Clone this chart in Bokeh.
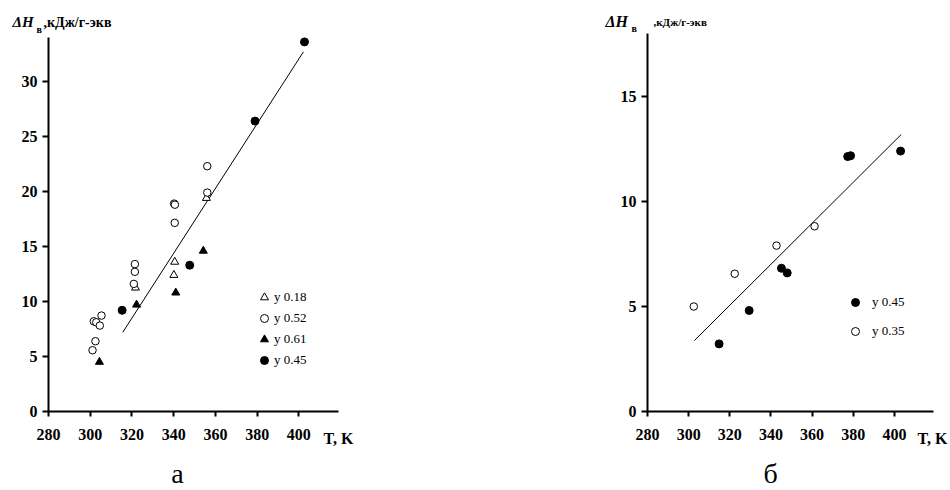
from bokeh.plotting import figure
from bokeh.models import Range1d, FixedTicker, Legend, LegendItem, Label
from bokeh.layouts import row
from bokeh.embed import file_html
from bokeh.resources import INLINE

# ---------------- data: chart "а" ----------------
a_T_018 = [355.7, 340.5, 340.1, 321.7]
a_H_018 = [19.4, 13.6, 12.4, 11.25]

a_T_052 = [356.1, 356.1, 340.2, 340.6, 340.5, 321.4, 321.4, 320.9,
           305.4, 301.7, 302.9, 304.6, 302.5, 301.1]
a_H_052 = [22.3, 19.9, 18.9, 18.8, 17.15, 13.4, 12.7, 11.6,
           8.72, 8.20, 8.11, 7.81, 6.39, 5.57]

a_T_061 = [354.2, 341.0, 322.2, 304.4]
a_H_061 = [14.6, 10.8, 9.7, 4.5]

a_T_045 = [315.3, 347.7, 379.0, 402.7]
a_H_045 = [9.2, 13.3, 26.4, 33.6]

a_fit_T = [315.6, 402.2]
a_fit_H = [7.2, 32.7]

# ---------------- data: chart "б" ----------------
b_T_045 = [314.8, 329.4, 345.1, 347.9, 377.3, 378.7, 403.0]
b_H_045 = [3.22, 4.81, 6.82, 6.60, 12.14, 12.18, 12.40]

b_T_035 = [302.5, 322.4, 342.7, 361.2]
b_H_035 = [5.0, 6.56, 7.90, 8.82]

b_fit_T = [302.8, 403.3]
b_fit_H = [3.38, 13.19]

x_ticks = [280, 300, 320, 340, 360, 380, 400]
a_y_ticks = [0, 5, 10, 15, 20, 25, 30]
b_y_ticks = [0, 5, 10, 15]

FONT = "Liberation Serif"

# layout (pixels); both frames share top and bottom (row aligns them)
TOP, FH, BOTTOM = 33, 378, 79
A_LEFT, A_FW, A_RIGHT = 48, 290, 135
B_LEFT, B_FW, B_RIGHT = 174, 286, 16
X0, X1 = 280, 419
A_KY, B_KY = 11.0, 21.0          # pixels per unit on each y axis
A_YMAX, B_YMAX = 34, 18          # where each y axis line ends


def style(p, yticks, ymax):
    p.xgrid.visible = False
    p.ygrid.visible = False
    p.outline_line_color = None
    p.background_fill_color = "white"
    p.border_fill_color = "white"
    p.xaxis.ticker = FixedTicker(ticks=x_ticks)
    p.yaxis.ticker = FixedTicker(ticks=yticks)
    p.yaxis.bounds = (0, ymax)
    for ax in (p.xaxis[0], p.yaxis[0]):
        ax.axis_line_width = 2
        ax.axis_line_color = "black"
        ax.major_tick_line_width = 2
        ax.major_tick_line_color = "black"
        ax.major_tick_in = 0
        ax.minor_tick_line_color = None
        ax.major_label_text_font = FONT
        ax.major_label_text_font_style = "bold"
        ax.major_label_text_font_size = "16px"
        ax.major_label_text_color = "black"
    p.xaxis.major_tick_out = 5
    p.xaxis.major_label_standoff = 12
    p.yaxis.major_tick_out = 6
    p.yaxis.major_label_standoff = 5


def make_label_adder(p, frame_left, frame_bottom, fw, ky):
    """Place texts by pixel position (baseline), converted through the figure's scales."""
    kx = fw / (X1 - X0)

    def add(side, text, px, py, size, fstyle="bold", align="left"):
        py = py - 0.4 * size          # renderer puts the baseline ~0.4em below the anchor
        x = X0 + (px - frame_left) / kx
        y = (frame_bottom - py) / ky
        p.add_layout(Label(x=x, y=y, x_units="data", y_units="data",
                           text=text, text_font=FONT, text_font_size=f"{size}px",
                           text_font_style=fstyle, text_color="black",
                           text_align=align, text_baseline="alphabetic"), side)
    return add


# ---------------- chart а ----------------
p1 = figure(frame_width=A_FW, frame_height=FH,
            x_range=Range1d(X0, X1), y_range=Range1d(0, FH / A_KY),
            min_border_left=A_LEFT, min_border_right=A_RIGHT,
            min_border_top=TOP, min_border_bottom=BOTTOM,
            output_backend="svg", toolbar_location=None)
style(p1, a_y_ticks, A_YMAX)

p1.line(a_fit_T, a_fit_H, line_color="black", line_width=1)
r018 = p1.scatter(a_T_018, a_H_018, marker="triangle", size=8,
                  fill_color="white", line_color="black", line_width=1)
r052 = p1.scatter(a_T_052, a_H_052, marker="circle", size=7.5,
                  fill_color="white", line_color="black", line_width=1)
r061 = p1.scatter(a_T_061, a_H_061, marker="triangle", size=8,
                  fill_color="black", line_color="black")
r045 = p1.scatter(a_T_045, a_H_045, marker="circle", size=8,
                  fill_color="black", line_color="black")

leg1 = Legend(items=[LegendItem(label="y 0.18", renderers=[r018]),
                     LegendItem(label="y 0.52", renderers=[r052]),
                     LegendItem(label="y 0.61", renderers=[r061]),
                     LegendItem(label="y 0.45", renderers=[r045])],
              location=(206, 41), margin=0, padding=0,
              glyph_width=20, glyph_height=20, label_height=14,
              label_width=10, spacing=1, label_standoff=0,
              border_line_alpha=0, background_fill_alpha=0,
              label_text_font=FONT, label_text_font_size="13px",
              label_text_color="black")
p1.add_layout(leg1, "center")

add1 = make_label_adder(p1, A_LEFT, TOP + FH, A_FW, A_KY)
add1("above", "ΔH", 12, 27, 15, "bold italic")
add1("left", "в", 36, 33, 10, "bold")
add1("right", ",кДж/г-экв", 43, 28, 14, "bold")
add1("right", "T, K", 323, 444, 16, "bold")
add1("right", "а", 177, 484, 28, "normal", "center")

# ---------------- chart б ----------------
p2 = figure(frame_width=B_FW, frame_height=FH,
            x_range=Range1d(X0, X1), y_range=Range1d(0, FH / B_KY),
            min_border_left=B_LEFT, min_border_right=B_RIGHT,
            min_border_top=TOP, min_border_bottom=BOTTOM,
            output_backend="svg", toolbar_location=None)
style(p2, b_y_ticks, B_YMAX)

p2.line(b_fit_T, b_fit_H, line_color="black", line_width=1)
s045 = p2.scatter(b_T_045, b_H_045, marker="circle", size=8,
                  fill_color="black", line_color="black")
s035 = p2.scatter(b_T_035, b_H_035, marker="circle", size=7.5,
                  fill_color="white", line_color="black", line_width=1)

leg2 = Legend(items=[LegendItem(label="y 0.45", renderers=[s045]),
                     LegendItem(label="y 0.35", renderers=[s035])],
              location=(198, 70), margin=0, padding=0,
              glyph_width=20, glyph_height=20, label_height=14,
              label_width=10, spacing=9, label_standoff=7,
              border_line_alpha=0, background_fill_alpha=0,
              label_text_font=FONT, label_text_font_size="13px",
              label_text_color="black")
p2.add_layout(leg2, "center")

fl2 = A_LEFT + A_FW + A_RIGHT + B_LEFT
add2 = make_label_adder(p2, fl2, TOP + FH, B_FW, B_KY)
add2("left", "ΔH", 605, 27, 16, "bold italic")
add2("left", "в", 631, 32, 10, "bold")
add2("left", ",кДж/г-экв", 653, 25.5, 11, "bold")
add2("left", "T, K", 917, 444, 16, "bold")
add2("left", "б", 770, 484, 28, "normal", "center")

layout = row(p1, p2)
open("out.html", "w").write(file_html(layout, INLINE))
